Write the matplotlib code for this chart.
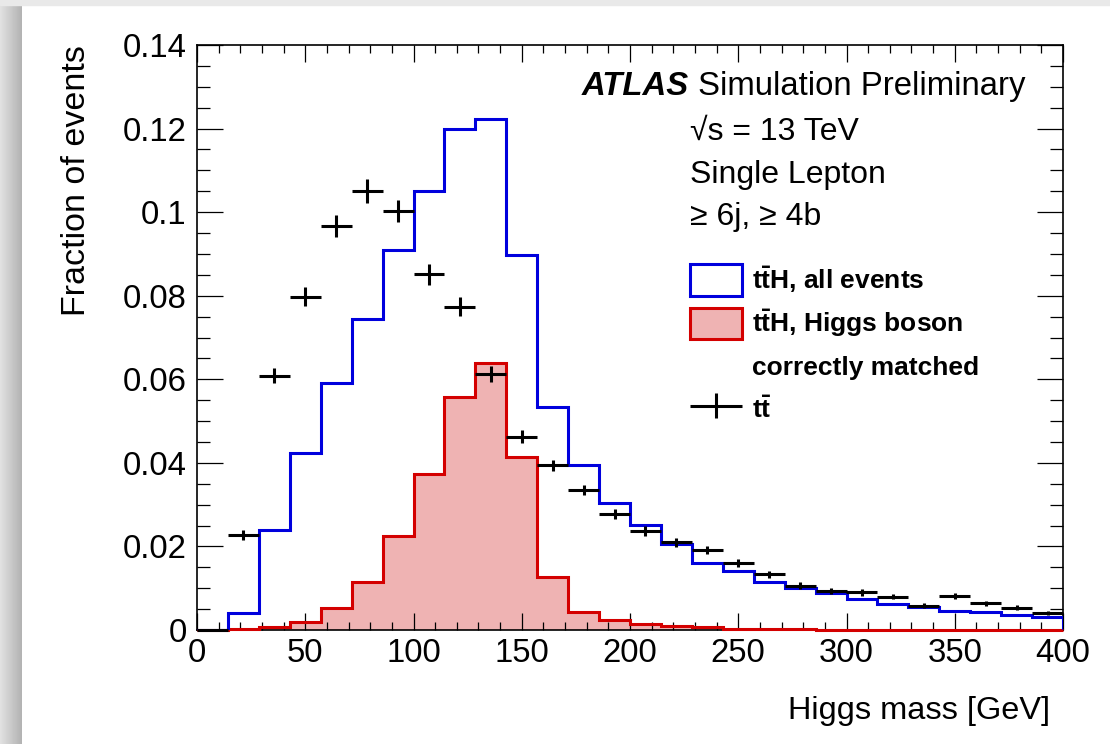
import numpy as np
import matplotlib.pyplot as plt
from matplotlib.patches import Patch, Rectangle
from matplotlib.ticker import MultipleLocator, FuncFormatter
from matplotlib.legend_handler import HandlerErrorbar
from matplotlib.container import ErrorbarContainer

plt.rcParams['font.family'] = ['Liberation Sans', 'DejaVu Sans']
plt.rcParams['mathtext.fontset'] = 'custom'
plt.rcParams['mathtext.rm'] = 'Liberation Sans'
plt.rcParams['mathtext.bf'] = 'Liberation Sans:bold'
plt.rcParams['mathtext.it'] = 'Liberation Sans:italic'

# 28 bins of Higgs candidate mass, 0-400 GeV
mass_lo, mass_hi, n_bins = 0, 400, 28

# ttH, all events (normalised)
tth_all = [0.0, 0.0040, 0.0239, 0.0423, 0.0590, 0.0744, 0.0909, 0.1051,
           0.1198, 0.1222, 0.0897, 0.0534, 0.0395, 0.0303, 0.0251, 0.0207,
           0.0160, 0.0141, 0.0116, 0.0100, 0.0088, 0.0074, 0.0062, 0.0056,
           0.0045, 0.0042, 0.0035, 0.0031]

# ttH, Higgs boson correctly matched
tth_matched = [0.0, 0.0003, 0.0008, 0.0018, 0.0052, 0.0114, 0.0226, 0.0373,
               0.0557, 0.0640, 0.0415, 0.0128, 0.0043, 0.0024, 0.0014, 0.0010,
               0.0006, 0.0003, 0.0002, 0.0002, 0.0001, 0.0001, 0.0001, 0.0,
               0.0, 0.0, 0.0, 0.0]

# ttbar background with stat. errors
ttbar = [0.0, 0.0227, 0.0608, 0.0798, 0.0967, 0.1051, 0.1003, 0.0851,
         0.0774, 0.0613, 0.0463, 0.0394, 0.0335, 0.0277, 0.0237, 0.0210,
         0.0191, 0.0160, 0.0133, 0.0106, 0.0093, 0.0090, 0.0080, 0.0058,
         0.0082, 0.0064, 0.0053, 0.0040]
ttbar_err = [0.0, 0.0012, 0.0018, 0.0022, 0.0026, 0.0028, 0.0027, 0.0026,
             0.0023, 0.0019, 0.0015, 0.0014, 0.0013, 0.0012, 0.0011, 0.0011,
             0.0010, 0.0010, 0.0009, 0.0008, 0.0008, 0.0008, 0.0007, 0.0006,
             0.0007, 0.0006, 0.0006, 0.0005]

edges = np.linspace(mass_lo, mass_hi, n_bins + 1)
centers = 0.5 * (edges[:-1] + edges[1:])
half_width = 0.5 * (edges[1] - edges[0])

W, H = 1110, 744
fig = plt.figure(figsize=(W / 100, H / 100), dpi=100)
fig.patch.set_facecolor('white')

# page border: grey band on top and shaded strip on the left
fig.patches.append(Rectangle((0, 1 - 5 / H), 1, 5 / H, transform=fig.transFigure,
                             color='#e9e9e9', zorder=0))
sh = fig.add_axes([0, 0, 22 / W, 1 - 5 / H])
shade = np.linspace(0.88, 0.70, 22)[None, :]
sh.imshow(shade, aspect='auto', cmap='gray', vmin=0, vmax=1)
sh.axis('off')

ax = fig.add_axes([197 / W, 1 - 630 / H, 866 / W, 585 / H])
ax.set_axisbelow(False)

red = '#d40000'
blue = '#0000dd'
pink = '#efb3b3'

ax.stairs(tth_matched, edges, fill=True, color=pink, zorder=1)
ax.stairs(tth_matched, edges, color=red, linewidth=2.2, zorder=3, clip_on=False)
ax.stairs(tth_all, edges, color=blue, linewidth=2.2, zorder=3.5)
eb = ax.errorbar(centers, ttbar, xerr=half_width, yerr=ttbar_err, fmt='none',
                 ecolor='black', elinewidth=2.2, capsize=0, zorder=4,
                 clip_on=False)

ax.set_xlim(mass_lo, mass_hi)
ax.set_ylim(0, 0.14)
ax.xaxis.set_major_locator(MultipleLocator(50))
ax.xaxis.set_minor_locator(MultipleLocator(10))
ax.yaxis.set_major_locator(MultipleLocator(0.02))
ax.yaxis.set_minor_locator(MultipleLocator(0.005))
ax.yaxis.set_major_formatter(FuncFormatter(lambda v, p: f'{v:.2f}'.rstrip('0').rstrip('.') if v else '0'))
ax.xaxis.set_major_formatter(FuncFormatter(lambda v, p: f'{v:.0f}'))

ax.tick_params(which='both', direction='in', top=True, right=True,
               labelsize=23.7, width=0.9, pad=6)
ax.tick_params(axis='y', pad=7.5)
ax.tick_params(axis='x', which='major', length=12)
ax.tick_params(axis='x', which='minor', length=6)
ax.tick_params(axis='y', which='major', length=19)
ax.tick_params(axis='y', which='minor', length=9.5)
for s in ax.spines.values():
    s.set_linewidth(1.2)

ax.set_ylabel('Fraction of events', fontsize=24.5, loc='top')
ax.yaxis.set_label_coords(-0.1215, 1.0)
ax.set_xlabel('Higgs mass [GeV]', fontsize=23.4, loc='right')
ax.xaxis.set_label_coords(0.985, -0.112)

# ATLAS label block
atl = ax.text(0.4446, 0.914, 'ATLAS', transform=ax.transAxes, fontsize=23.7,
              fontweight='bold', fontstyle='italic', va='baseline')
ax.annotate(' Simulation Preliminary', xy=(1, 0), xycoords=atl, fontsize=23.7,
            va='bottom', ha='left')
ax.text(0.5693, 0.838, '√s = 13 TeV', transform=ax.transAxes, fontsize=23,
        va='baseline')
ax.text(0.5693, 0.764, 'Single Lepton', transform=ax.transAxes, fontsize=23,
        va='baseline')
ax.text(0.5693, 0.692, '≥ 6j, ≥ 4b', transform=ax.transAxes, fontsize=23,
        va='baseline')

handles = [
    Patch(facecolor='white', edgecolor=blue, linewidth=2.2),
    Patch(facecolor=pink, edgecolor=red, linewidth=2.2),
    Patch(facecolor='none', edgecolor='none'),
    eb,
]
labels = [r'$\mathbf{t\bar{t}H}$, all events',
          r'$\mathbf{t\bar{t}H}$, Higgs boson',
          'correctly matched',
          r'$\mathbf{t\bar{t}}$']
ax.legend(handles, labels, loc='upper left', bbox_to_anchor=(0.5693, 0.6256),
          frameon=False, borderpad=0, borderaxespad=0, handlelength=1.97,
          handleheight=1.46, handletextpad=0.38, labelspacing=0.435,
          prop={'size': 19, 'weight': 'bold'},
          handler_map={ErrorbarContainer: HandlerErrorbar(xerr_size=0.97, yerr_size=0.47)})

fig.savefig('out.png', dpi=100)
